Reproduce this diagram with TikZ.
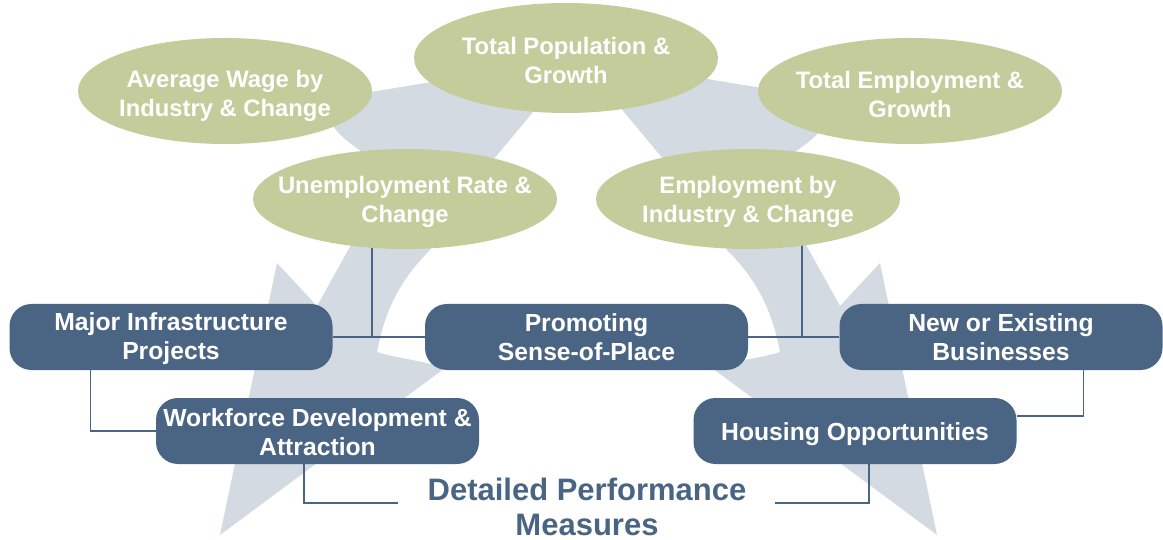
\documentclass[tikz,border=0pt]{standalone}
\usepackage{fontspec}
\setmainfont{Liberation Sans}
\usetikzlibrary{shapes.geometric,calc}
\definecolor{boxblue}{HTML}{4A6584}
\definecolor{sage}{HTML}{C4CC9C}
\definecolor{arrowgrey}{HTML}{D3DAE2}
\pgfdeclarelayer{bg}
\pgfsetlayers{bg,main}
\newcommand\boxfnt{\fontsize{24.7}{29}\selectfont\bfseries}
\newcommand\ellfnt{\fontsize{23.8}{29}\selectfont\bfseries}
\newcommand\ttlfnt{\fontsize{31}{35}\selectfont\bfseries}
\begin{document}
\begin{tikzpicture}[x=1pt,y=-1pt,
  stepbox/.style={rectangle, rounded corners=22pt, fill=boxblue,
    minimum width=323pt, minimum height=66pt, inner sep=0pt},
  boxtext/.style={text=white, align=center, font=\boxfnt, inner sep=0pt},
  oval/.style={ellipse, fill=sage, inner sep=0pt},
  ovaltext/.style={text=white, align=center, font=\ellfnt, inner sep=0pt},
  link/.style={draw=boxblue, line width=1.5pt},
  arm/.style={fill=arrowgrey}]
\useasboundingbox (0,0) rectangle (1163,540);

% ellipses
\node[oval, minimum width=294pt, minimum height=106pt,
  label={[ovaltext,yshift=-5pt]center:Average Wage by\\Industry \& Change}] (wage) at (225,91) {};
\node[oval, minimum width=304pt, minimum height=110pt,
  label={[ovaltext,yshift=-2pt]center:Total Population \&\\Growth}] (pop) at (566,58) {};
\node[oval, minimum width=304pt, minimum height=106pt,
  label={[ovaltext,yshift=-3pt]center:Total Employment \&\\Growth}] (totemp) at (910,91) {};
\node[oval, minimum width=304pt, minimum height=100pt,
  label={[ovaltext,yshift=-3pt]center:Unemployment Rate \&\\Change}] (unemp) at (405,199) {};
\node[oval, minimum width=304pt, minimum height=100pt,
  label={[ovaltext,yshift=-3pt]center:Employment by\\Industry \& Change}] (empind) at (748,199) {};

% boxes
\node[stepbox, label={[boxtext,yshift=-2pt]center:Major Infrastructure\\Projects}] (major) at (171,337) {};
\node[stepbox, label={[boxtext]center:Promoting\\Sense-of-Place}] (promo) at (586.5,337) {};
\node[stepbox, label={[boxtext]center:New or Existing\\Businesses}] (newbiz) at (1001,337) {};
\node[stepbox, label={[boxtext,yshift=-1pt]center:Workforce Development \&\\Attraction}] (work) at (317.5,431) {};
\node[stepbox, label={[boxtext,yshift=-3pt]center:Housing Opportunities}] (housing) at (855,431) {};

% title
\node[font=\ttlfnt, text=boxblue, align=center, inner sep=0pt] (title) at (587,507)
  {Detailed Performance\\Measures};

\coordinate (j1) at (372,337);
\coordinate (j2) at (802,337);
\coordinate (tl) at (398,503);
\coordinate (tr) at (775,503);

\begin{pgfonlayer}{bg}
\fill[arm] (578,58) -- (322,100) -- (333,126) .. controls (343,140) and (355,146) .. (363,153)
  -- (352,243) -- (317,306) -- (277,263) -- (220,535) -- (445,368)
  .. controls (420,360) and (395,358) .. (377,352)
  .. controls (385,310) and (400,280) .. (430,250)
  .. controls (455,215) and (475,185) .. (493,160) -- cycle;
\fill[arm] (579,58) -- (835,100) -- (824,126) .. controls (814,140) and (802,146) .. (794,153)
  -- (805,243) -- (840,306) -- (880,263) -- (937,535) -- (712,368)
  .. controls (737,360) and (762,358) .. (780,352)
  .. controls (772,310) and (757,280) .. (727,250)
  .. controls (702,215) and (682,185) .. (664,160) -- cycle;

\draw[link] (major.east) -- (promo.west);
\draw[link] (unemp.center -| j1) -- (j1);
\draw[link] (promo.east) -- (newbiz.west);
\draw[link] (empind.center -| j2) -- (j2);
\draw[link] ([xshift=81pt]major.south west) |- (work.west);
\draw[link] ([xshift=-79pt]newbiz.south east) |- ([yshift=15pt]housing.east);
\draw[link] ([xshift=-13.5pt]work.south) |- (tl);
\draw[link] ([xshift=14pt]housing.south) |- (tr);
\end{pgfonlayer}
\end{tikzpicture}
\end{document}
